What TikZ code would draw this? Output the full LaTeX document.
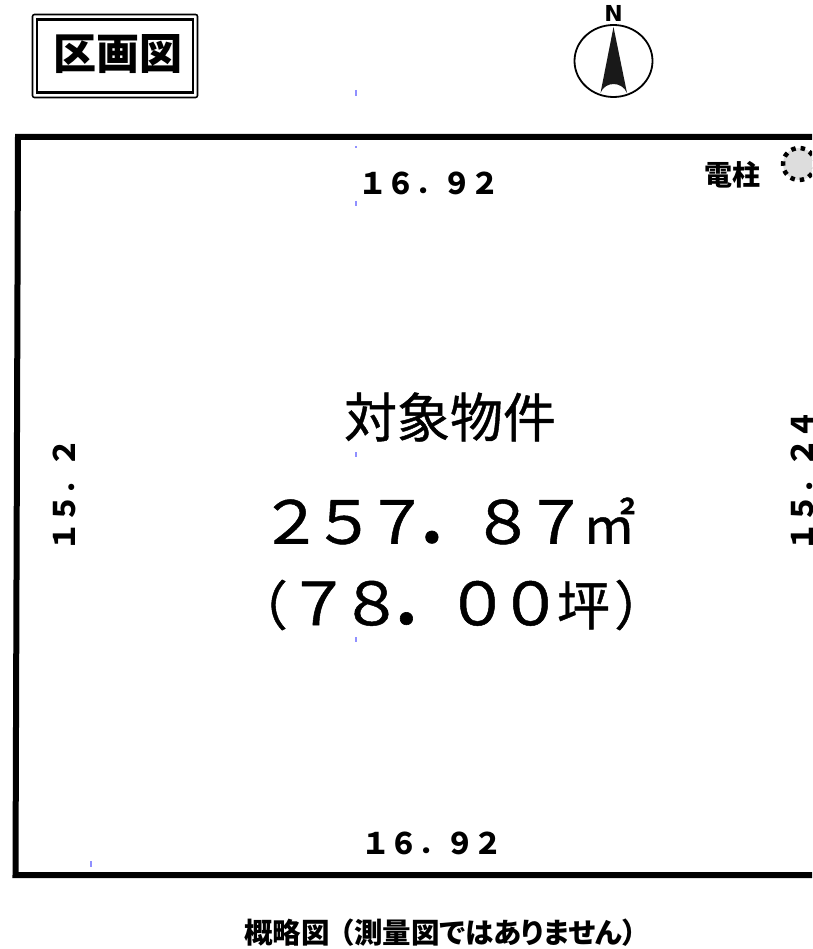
\documentclass[tikz,border=0pt]{standalone}
\usepackage{graphicx}
\usepackage{fontspec}
\setmainfont{Noto Sans CJK JP}
\newfontfamily\jppalt[RawFeature=+palt]{Noto Sans CJK JP}
\newfontfamily\jpmed[FakeBold=0.8]{Noto Sans CJK JP}
\newfontfamily\nfont{DejaVu Sans}
\usetikzlibrary{shapes.geometric}
\definecolor{tickblue}{HTML}{9090FF}
\definecolor{poleGray}{HTML}{DDDDDD}
\newcommand\wg[1]{\makebox[1em][c]{\scalebox{1.2}[1.12]{#1}}}
\newcommand\wdot{\makebox[1em][l]{\hspace{-.2em}\scalebox{1.5}{．}}}
\newcommand\wn[1]{\makebox[1.03em][c]{\scalebox{1.08}[1.1]{#1}}}
\newcommand\ndot{\makebox[1.03em][l]{．}}
\tikzset{
  x=1pt,y=-1pt,
  txt/.style={inner sep=0pt,outer sep=0pt,anchor=center,text=black},
  big/.style={txt,font=\fontsize{53}{53}\selectfont\jpmed},
  dim/.style={txt,font=\fontsize{27}{27}\selectfont\bfseries},
  vdim/.style={txt,rotate=90,font=\fontsize{27}{27}\selectfont\bfseries},
  tick/.style={draw=tickblue,line width=1.2pt},
  lot/.style={draw=black,line width=6pt,line cap=butt,line join=miter},
}
\begin{document}
\begin{tikzpicture}
\clip (0,0) rectangle (812,949);
\fill[white] (0,0) rectangle (812,949);
% title
\node[txt,draw=black,line width=1.6pt,rounded corners=2pt,minimum width=165pt,minimum height=83pt] (titleouter) at (115,56) {};
\node[txt,draw=black,line width=2.2pt,minimum width=156pt,minimum height=73pt] (titleinner) at (115,56) {};
\node[txt,font=\fontsize{43}{43}\selectfont\bfseries] (title) at (118,54) {区画図};
% north
\node[txt,draw=black,line width=1.8pt,ellipse,minimum width=78pt,minimum height=72pt] (compass) at (613.5,61) {};
\fill[black!90] (613.5,27) -- (627,93) .. controls (622,81) and (605,81) .. (600.5,93) -- cycle;
\node[txt,font=\fontsize{22}{22}\selectfont\nfont\bfseries] (north) at (613.5,13) {N};
% lot
\draw[lot] (812,137) -- (18,137) -- (15.5,875) -- (812,875);
% pole
\node[txt,circle,fill=poleGray,draw=black,line width=4.5pt,dash pattern=on 4.5pt off 5pt,minimum size=32pt] (pole) at (799,164) {};
\node[txt,font=\fontsize{28}{28}\selectfont\bfseries] (poleLabel) at (732,175) {電柱};
% dims
\node[dim] (top) at (429,183) {\wn{１}\wn{６}\ndot\wn{９}\wn{２}};
\node[dim] (bottom) at (432,843) {\wn{１}\wn{６}\ndot\wn{９}\wn{２}};
\node[vdim] (left) at (64,495) {\wn{１}\wn{５}\ndot\wn{２}};
\node[vdim] (right) at (802,481) {\wn{１}\wn{５}\ndot\wn{２}\wn{４}};
% centre
\node[big] (subject) at (450,417) {対象物件};
\node[big] (area) at (450,521) {\wg{２}\wg{５}\wg{７}\wdot\wg{８}\wg{７}㎡};
\node[big] (tsubo) at (451,605) {（\hspace{.08em}\wg{７}\wg{８}\wdot\wg{０}\wg{０}坪\hspace{.08em}）};
% caption
\node[txt,font=\fontsize{28.5}{28.5}\selectfont\bfseries\jppalt] (caption) at (440.5,933) {概略図\hspace{.35em}（測量図ではありません）};
% ticks
\coordinate (t1a) at (356,90); \coordinate (t1b) at (356,96);
\coordinate (t2a) at (356,146); \coordinate (t2b) at (356,148);
\coordinate (t3a) at (356,201); \coordinate (t3b) at (356,206);
\coordinate (t4a) at (356,452); \coordinate (t4b) at (356,457);
\coordinate (t5a) at (356,637); \coordinate (t5b) at (356,642);
\coordinate (t6a) at (91,861); \coordinate (t6b) at (91,867);
\foreach \n in {1,...,6} \draw[tick] (t\n a) -- (t\n b);
\end{tikzpicture}
\end{document}
